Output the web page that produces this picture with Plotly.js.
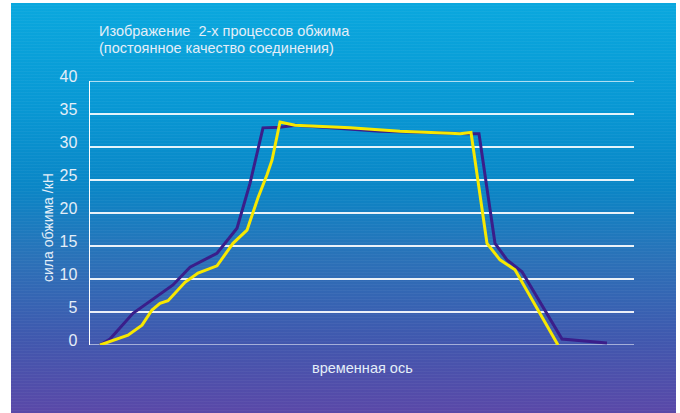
<!DOCTYPE html>
<html>
<head>
<meta charset="utf-8">
<script src="https://cdn.plot.ly/plotly-3.0.1.min.js"></script>
<style>
  html, body { margin:0; padding:0; background:#ffffff; }
  #wrap { position:relative; width:680px; height:413px; overflow:hidden; }
  #bg { position:absolute; left:11px; top:3px; width:665px; height:410px;
        background: linear-gradient(to bottom, #0aa8de 0%, #0898d4 25%, #0a86c6 45%, #2a72b8 62%, #4058ae 82%, #5a48a8 100%); }
  #stripes { position:absolute; left:11px; top:3px; width:665px; height:410px;
        background: repeating-linear-gradient(to bottom, rgba(255,255,255,0.0) 0px, rgba(255,255,255,0.0) 2px, rgba(255,255,255,0.04) 2px, rgba(255,255,255,0.04) 3px); }
  #chart { position:absolute; left:0; top:0; width:680px; height:413px; }
</style>
</head>
<body>
<div id="wrap">
  <div id="bg"></div>
  <div id="stripes"></div>
  <div id="chart"></div>
</div>
<script>
// time axis (arbitrary units), force in kN
const timeBlue  = [10, 20, 43, 67, 83, 100, 127, 147, 160, 173, 190, 205, 290, 380, 383, 389, 405, 417, 432, 472, 517];
const forceBlue = [0, 0.9, 4.8, 7.3, 9.1, 11.8, 13.9, 17.7, 24.5, 32.9, 33.0, 33.3, 32.4, 32.0, 32.0, 32.0, 15.4, 12.9, 11.1, 0.9, 0.3];

const timeYellow  = [10, 38, 52, 62, 70, 78, 95, 108, 127, 143, 157, 168, 177, 182, 190, 205, 260, 310, 360, 370, 381, 397, 410, 425, 468];
const forceYellow = [0, 1.5, 3.0, 5.3, 6.3, 6.7, 9.5, 10.9, 12.0, 15.4, 17.4, 22.3, 25.8, 28.0, 33.8, 33.3, 32.9, 32.4, 32.1, 32.0, 32.2, 15.4, 12.9, 11.4, 0.0];

const yTicks = [0, 5, 10, 15, 20, 25, 30, 35, 40];
const titleLines = ['Изображение  2-х процессов обжима', '(постоянное качество соединения)'];
const yTitle = 'сила обжима /кН';
const xTitle = 'временная ось';

const txt = '#e4eef8';
const font = 'Liberation Sans, Arial, sans-serif';

const traces = [
  { x: timeBlue, y: forceBlue, mode: 'lines', line: { color: '#3a1e8a', width: 3 }, hoverinfo: 'skip' },
  { x: timeYellow, y: forceYellow, mode: 'lines', line: { color: '#f7e800', width: 3 }, hoverinfo: 'skip' }
];

const layout = {
  width: 680, height: 413,
  margin: { l: 90, r: 46, t: 81, b: 68, pad: 0 },
  paper_bgcolor: 'rgba(0,0,0,0)',
  plot_bgcolor: 'rgba(0,0,0,0)',
  showlegend: false,
  font: { family: font, color: txt },
  xaxis: { range: [0, 544], showgrid: false, zeroline: false, showticklabels: false, ticks: '', showline: false, fixedrange: true },
  yaxis: {
    range: [0, 40], tickvals: yTicks, ticktext: yTicks.map(String),
    showgrid: true, gridcolor: 'rgba(255,255,255,0.9)', gridwidth: 1.5,
    zeroline: false, showline: true, linecolor: '#ffffff', linewidth: 1.5,
    ticks: 'outside', ticklen: 8, tickcolor: 'rgba(0,0,0,0)',
    tickfont: { size: 16, color: txt, family: font },
    ticklabelshift: -5, fixedrange: true
  },
  shapes: [
    { type: 'line', xref: 'paper', yref: 'y', x0: 0, x1: 1, y0: 40, y1: 40,
      line: { color: 'rgba(255,255,255,0.9)', width: 1.5 }, layer: 'below' },
    { type: 'line', xref: 'paper', yref: 'y', ysizemode: 'pixel', yanchor: 0, x0: 0, x1: 1, y0: -2, y1: -2,
      line: { color: '#ffffff', width: 5 }, layer: 'below' }
  ],
  annotations: [
    { text: titleLines[0], xref: 'paper', yref: 'paper', x: 7/544, y: (345-31)/264, xanchor: 'left', yanchor: 'middle', showarrow: false, font: { size: 14.5, color: txt, family: font } },
    { text: titleLines[1], xref: 'paper', yref: 'paper', x: 7/544, y: (345-48)/264, xanchor: 'left', yanchor: 'middle', showarrow: false, font: { size: 14.5, color: txt, family: font } },
    { text: yTitle, xref: 'paper', yref: 'paper', x: (48-90)/544, y: (345-228)/264, xanchor: 'center', yanchor: 'middle', textangle: -90, showarrow: false, font: { size: 14, color: txt, family: font } },
    { text: xTitle, xref: 'paper', yref: 'paper', x: (362-90)/544, y: (345-368)/264, xanchor: 'center', yanchor: 'middle', showarrow: false, font: { size: 14.5, color: txt, family: font } }
  ]
};

Plotly.newPlot('chart', traces, layout, { displayModeBar: false, staticPlot: true });
</script>
</body>
</html>
